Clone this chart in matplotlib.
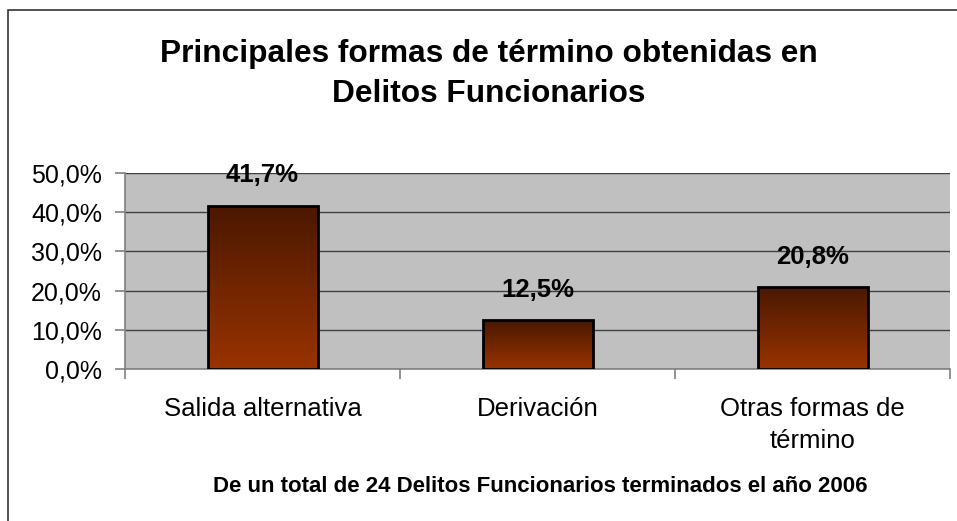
import matplotlib
matplotlib.use("Agg")
import matplotlib.pyplot as plt
import numpy as np
from matplotlib.colors import LinearSegmentedColormap
from matplotlib.patches import Rectangle

plt.rcParams['font.family'] = ['Liberation Sans', 'DejaVu Sans']

categories = ["Salida alternativa", "Derivación", "Otras formas de\ntérmino"]
values = [41.7, 12.5, 20.8]
value_labels = ["41,7%", "12,5%", "20,8%"]
yticks = [0, 10, 20, 30, 40, 50]
ytick_labels = ["0,0%", "10,0%", "20,0%", "30,0%", "40,0%", "50,0%"]
title = "Principales formas de término obtenidas en\nDelitos Funcionarios"
footer = "De un total de 24 Delitos Funcionarios terminados el año 2006"

W, H = 957, 521
fig = plt.figure(figsize=(W / 100, H / 100), dpi=100)
fig.patch.set_facecolor("white")

# outer chart border (extends beyond the right and bottom edge)
border = Rectangle((8 / W, -10 / H), (975 - 8) / W, (H - 10 + 10) / H,
                   transform=fig.transFigure, fill=False, edgecolor="#333333",
                   linewidth=1.2, clip_on=False)
fig.patches.append(border)

ax = fig.add_axes([125 / W, 1 - 369 / H, (950 - 125) / W, (369 - 173) / H])
ax.set_facecolor("#C0C0C0")
ax.set_xlim(-0.5, 2.5)
ax.set_ylim(0, 50)

for s in ["top", "right"]:
    ax.spines[s].set_visible(False)
ax.spines["left"].set_color("#808080")
ax.spines["bottom"].set_color("#808080")
ax.spines["left"].set_linewidth(1.2)
ax.spines["bottom"].set_linewidth(1.2)

ax.set_yticks(yticks)
ax.set_yticklabels(ytick_labels, fontsize=18)
ax.yaxis.grid(True, color="#404040", linewidth=1.0)
ax.set_axisbelow(True)
ax.tick_params(axis="y", length=7, width=1.2, color="#808080", pad=9.5, direction="out")

ax.set_xticks(range(len(categories)))
ax.set_xticklabels(categories, fontsize=18.5, linespacing=1.42)
ax.set_xticks(np.arange(-0.5, len(categories), 1.0), minor=True)
ax.tick_params(axis="x", which="major", length=0, pad=20)
ax.tick_params(axis="x", which="minor", length=7, width=1.2, color="#808080", direction="out")

bars = ax.bar(range(len(categories)), values, width=0.4, facecolor="none",
              edgecolor="black", linewidth=2, zorder=3)

cmap = LinearSegmentedColormap.from_list("brown", ["#993300", "#4A1800"])
grad = np.linspace(0, 1, 256).reshape(-1, 1)
for b in bars:
    x0, y0 = b.get_x(), b.get_y()
    w, h = b.get_width(), b.get_height()
    im = ax.imshow(grad, cmap=cmap, extent=[x0, x0 + w, y0, y0 + h],
                   origin="lower", aspect="auto", zorder=2)
    im.set_clip_path(b)

ax.set_xlim(-0.5, 2.5)
ax.set_ylim(0, 50)

for b, lab in zip(bars, value_labels):
    ax.annotate(lab, (b.get_x() + b.get_width() / 2, b.get_height()),
                xytext=(0, 13), textcoords="offset points", ha="center", va="bottom",
                fontsize=18.5, fontweight="bold", zorder=4, annotation_clip=False)

fig.text(489 / W, 1 - 74 / H, title, ha="center", va="center", fontsize=22.8,
         fontweight="bold", linespacing=1.42)
fig.text(540 / W, 1 - 486 / H, footer, ha="center", va="center", fontsize=16,
         fontweight="bold")

fig.savefig("out.png", dpi=100, facecolor="white")
